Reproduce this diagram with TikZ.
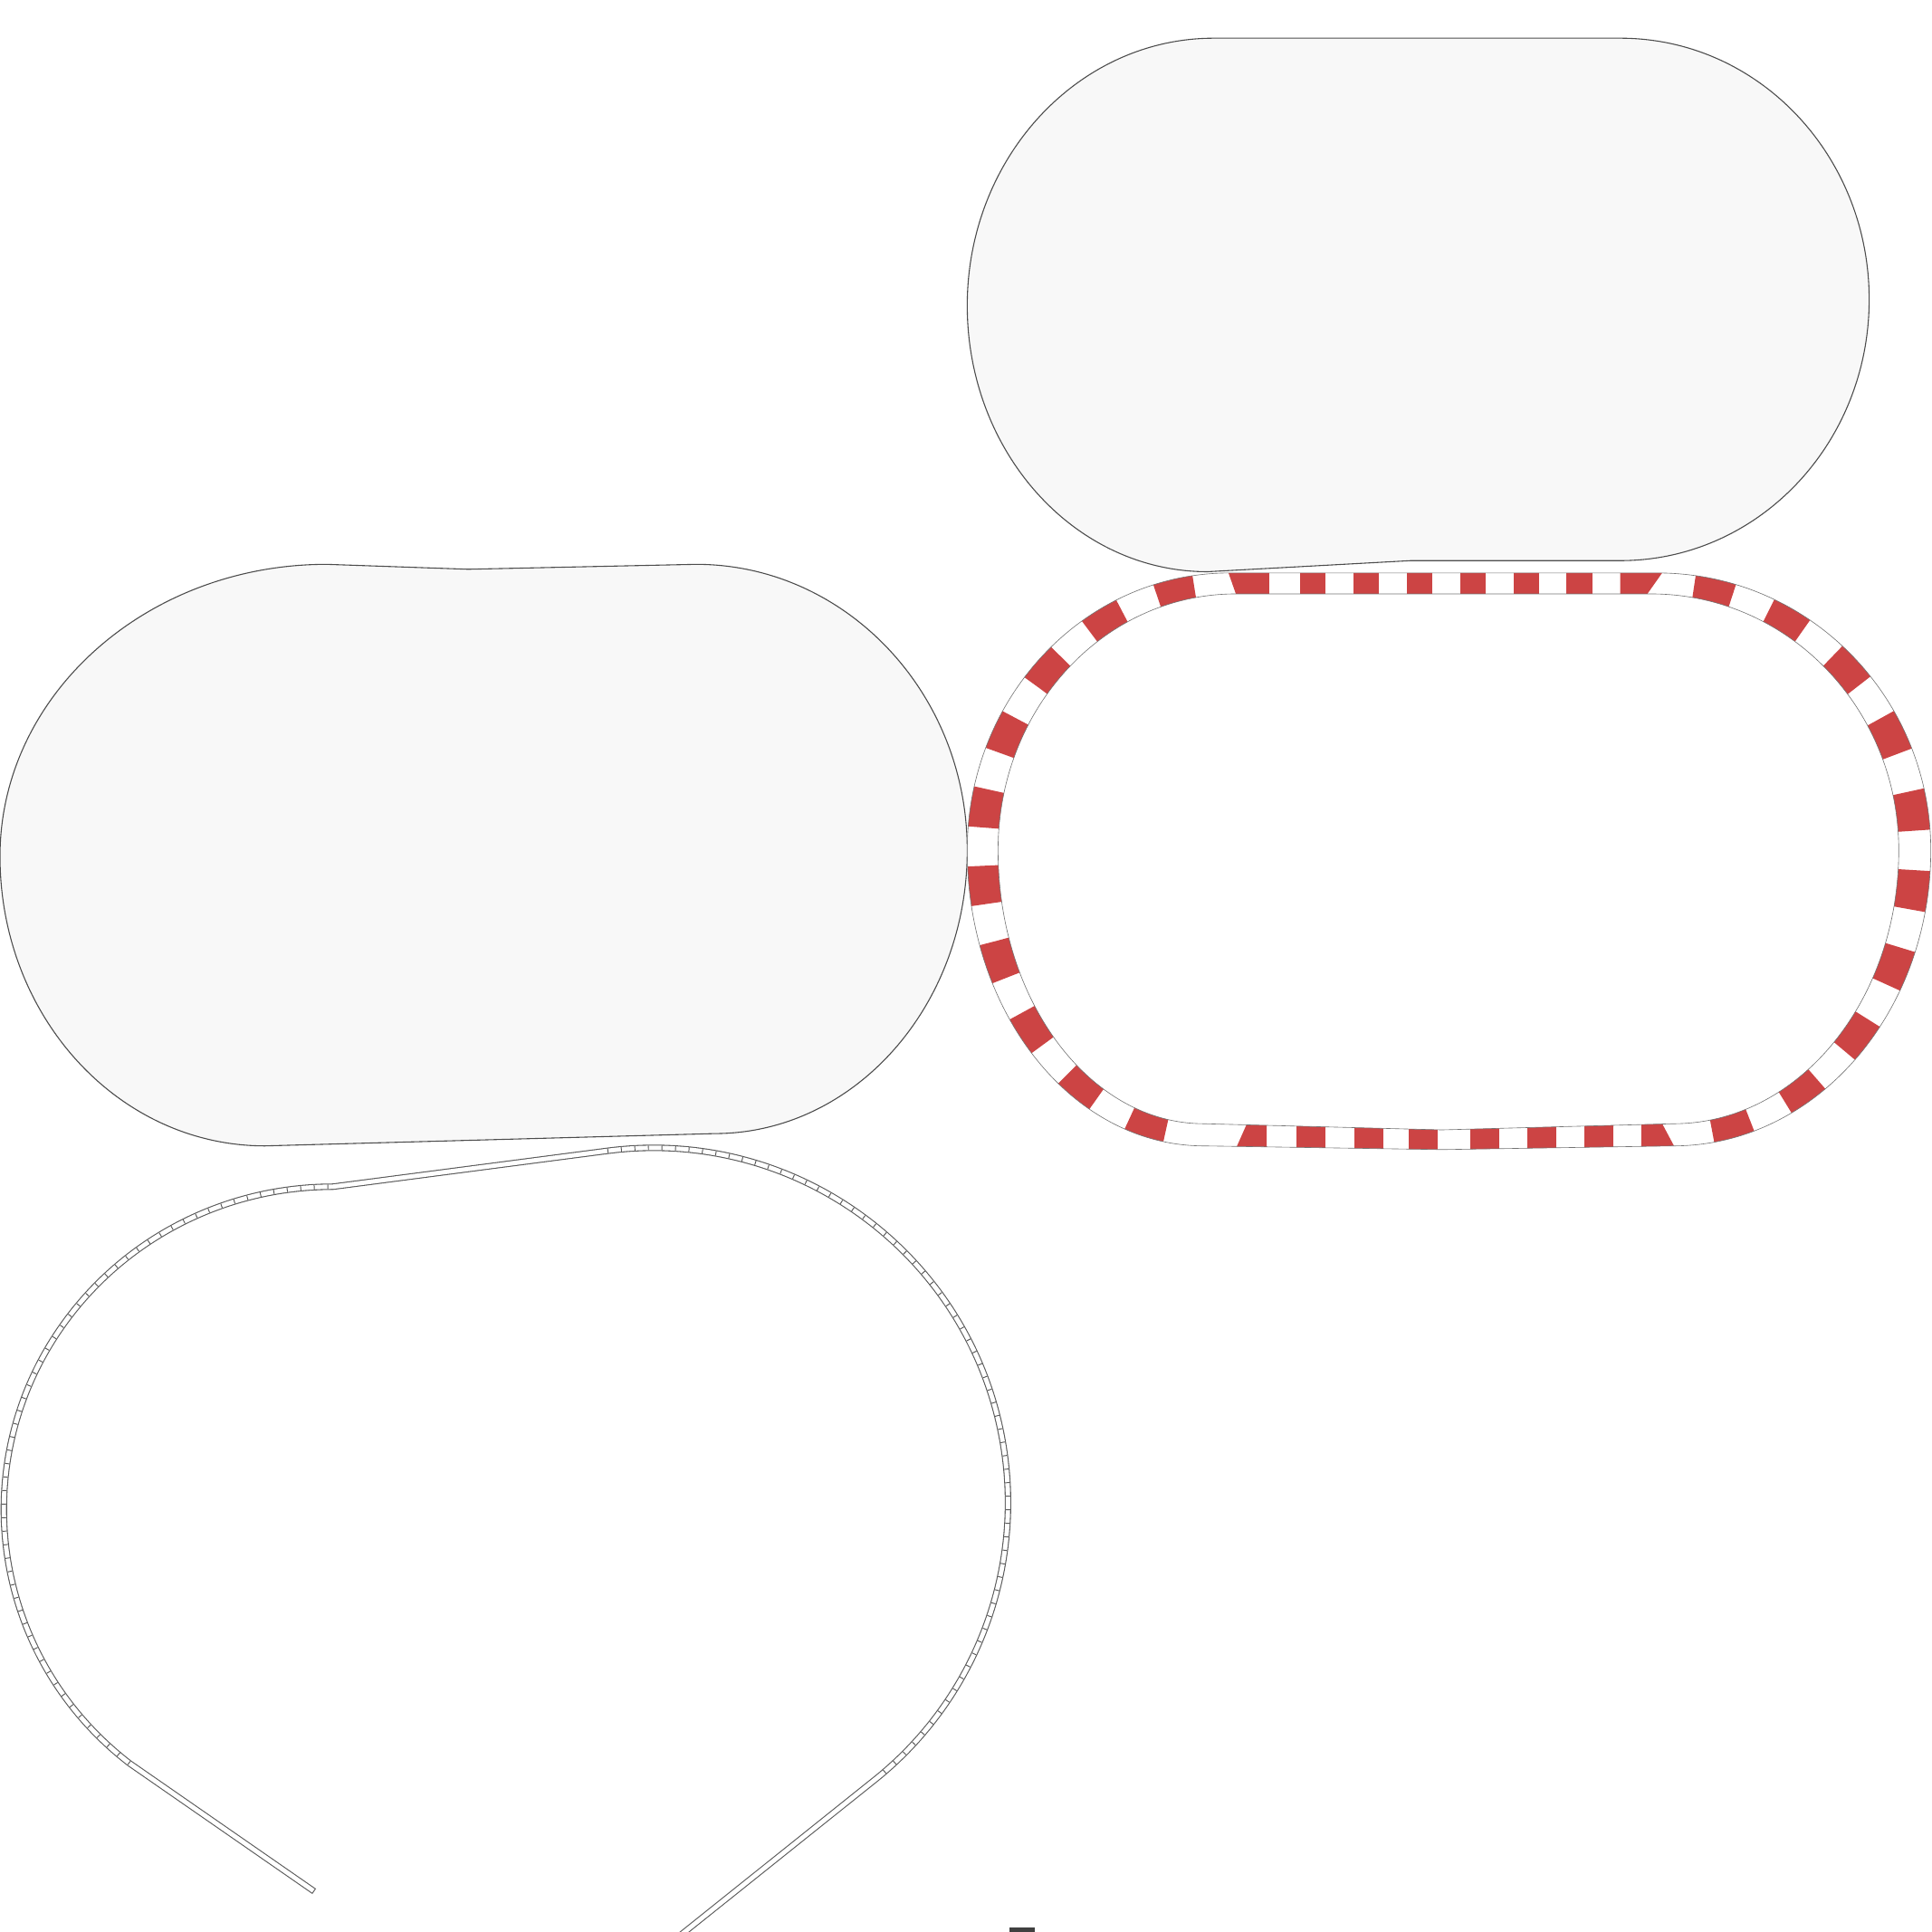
\documentclass[tikz,border=0pt]{standalone}
\usepackage{tikz}
\definecolor{kerbred}{RGB}{204,68,68}
\definecolor{infieldgrey}{RGB}{248,248,248}
\newcommand{\kerbouter}{(998,465) -- (1345,465)
  .. controls (1468,465) and (1567,566) .. (1567,690)
  .. controls (1567,823) and (1473,930) .. (1358,930)
  -- (1170,933) -- (977,930)
  .. controls (871,930) and (785,823) .. (785,690)
  .. controls (785,566) and (880,465) .. cycle}
\newcommand{\kerbinner}{(1003,482) -- (1340,482)
  .. controls (1451,482) and (1541,575) .. (1541,690)
  .. controls (1541,813) and (1459,912) .. (1358,912)
  -- (1170,917) -- (977,912)
  .. controls (885,912) and (810,813) .. (810,690)
  .. controls (810,575) and (896,482) .. cycle}
\newcommand{\trackpath}{(tEndL) -- (tArcL)
  arc[start angle=128.2, end angle=270, x radius=267, y radius=262] -- (tArcR)
  arc[start angle=262.6, end angle=411.3, radius=288] -- (tEndR)}

\begin{document}
\begin{tikzpicture}[
  x=1pt, y=-1pt,
  infield/.style={fill=infieldgrey, draw=black!70, line width=0.8pt},
  kerbedge/.style={draw=black!55, line width=0.45pt},
  kerbdash/.style={draw=kerbred, line width=44pt},
  railbed/.style={draw=black!65, line width=5.2pt},
  railgap/.style={draw=white, line width=3.6pt, shorten <=0.8pt, shorten >=0.8pt},
  sleepers/.style={draw=black!65, line width=3.6pt, dash pattern=on 0.7pt off 10.3pt},
]
  \useasboundingbox (0,0) rectangle (1568,1568);

  \draw[infield] (985,31) -- (1315,31)
    .. controls (1427,31) and (1517,126) .. (1517,243)
    .. controls (1517,360) and (1427,455) .. (1315,455)
    -- (1145,455) -- (980,464)
    .. controls (872,464) and (785,367) .. (785,248)
    .. controls (785,128) and (875,31) .. cycle;

  \draw[infield] (265,458) -- (380,462) -- (565,458)
    .. controls (686,458) and (785,562) .. (785,690)
    .. controls (785,817) and (693,920) .. (580,920)
    -- (215,930)
    .. controls (96,930) and (0,825) .. (0,695)
    .. controls (0,564) and (119,458) .. cycle;

  % kerb ring
  \begin{scope}[even odd rule]
    \clip \kerbouter \kerbinner;
    \fill[white] (775,455) rectangle (1575,945);
    \draw[kerbdash, dash pattern=on 32pt off 32pt, dash phase=32pt]
      (1343,473.5) .. controls (1459.5,473.5) and (1554,570.4) .. (1554,690)
      .. controls (1554,817.6) and (1466,921) .. (1358,921);
    \draw[kerbdash, dash pattern=on 31.1pt off 31.1pt, dash phase=31.1pt]
      (977,921) .. controls (878,921) and (797.5,817.6) .. (797.5,690)
      .. controls (797.5,570.4) and (888,473.5) .. (1000,473.5);
    \fill[kerbred] (993.5,455) -- (1030,455) -- (1030,495) -- (1007.6,495) -- cycle;
    \foreach \x in {1055,1098.3,1141.6,1184.9,1228.2,1271.5}
      \fill[kerbred] (\x,455) rectangle ++(21,40);
    \fill[kerbred] (1315,455) -- (1356,455) -- (1327.8,495) -- (1315,495) -- cycle;
    \fill[kerbred] (1017.3,900) -- (1028,900) -- (1028,945) -- (997.3,945) -- cycle;
    \foreach \x in {1052,1099.5,1143,1193,1239.5,1286}
      \fill[kerbred] (\x,900) rectangle ++(23.5,45);
    \fill[kerbred] (1332,900) -- (1342.6,900) -- (1366.6,945) -- (1332,945) -- cycle;
  \end{scope}
  \draw[kerbedge] \kerbouter;
  \draw[kerbedge] \kerbinner;

  % rail track
  \coordinate (tEndL) at (255,1535);
  \coordinate (tArcL) at (105,1431);
  \coordinate (tArcR) at (493,934);
  \coordinate (tEndR) at (553,1570);
  \draw[railbed] \trackpath;
  \draw[railgap] \trackpath;
  \draw[sleepers] (tArcL) arc[start angle=128.2, end angle=270, x radius=267, y radius=262];
  \draw[sleepers] (tArcR) arc[start angle=262.6, end angle=411.3, radius=288];

  \fill[black!75] (819,1564.5) rectangle (840,1568);
\end{tikzpicture}
\end{document}
